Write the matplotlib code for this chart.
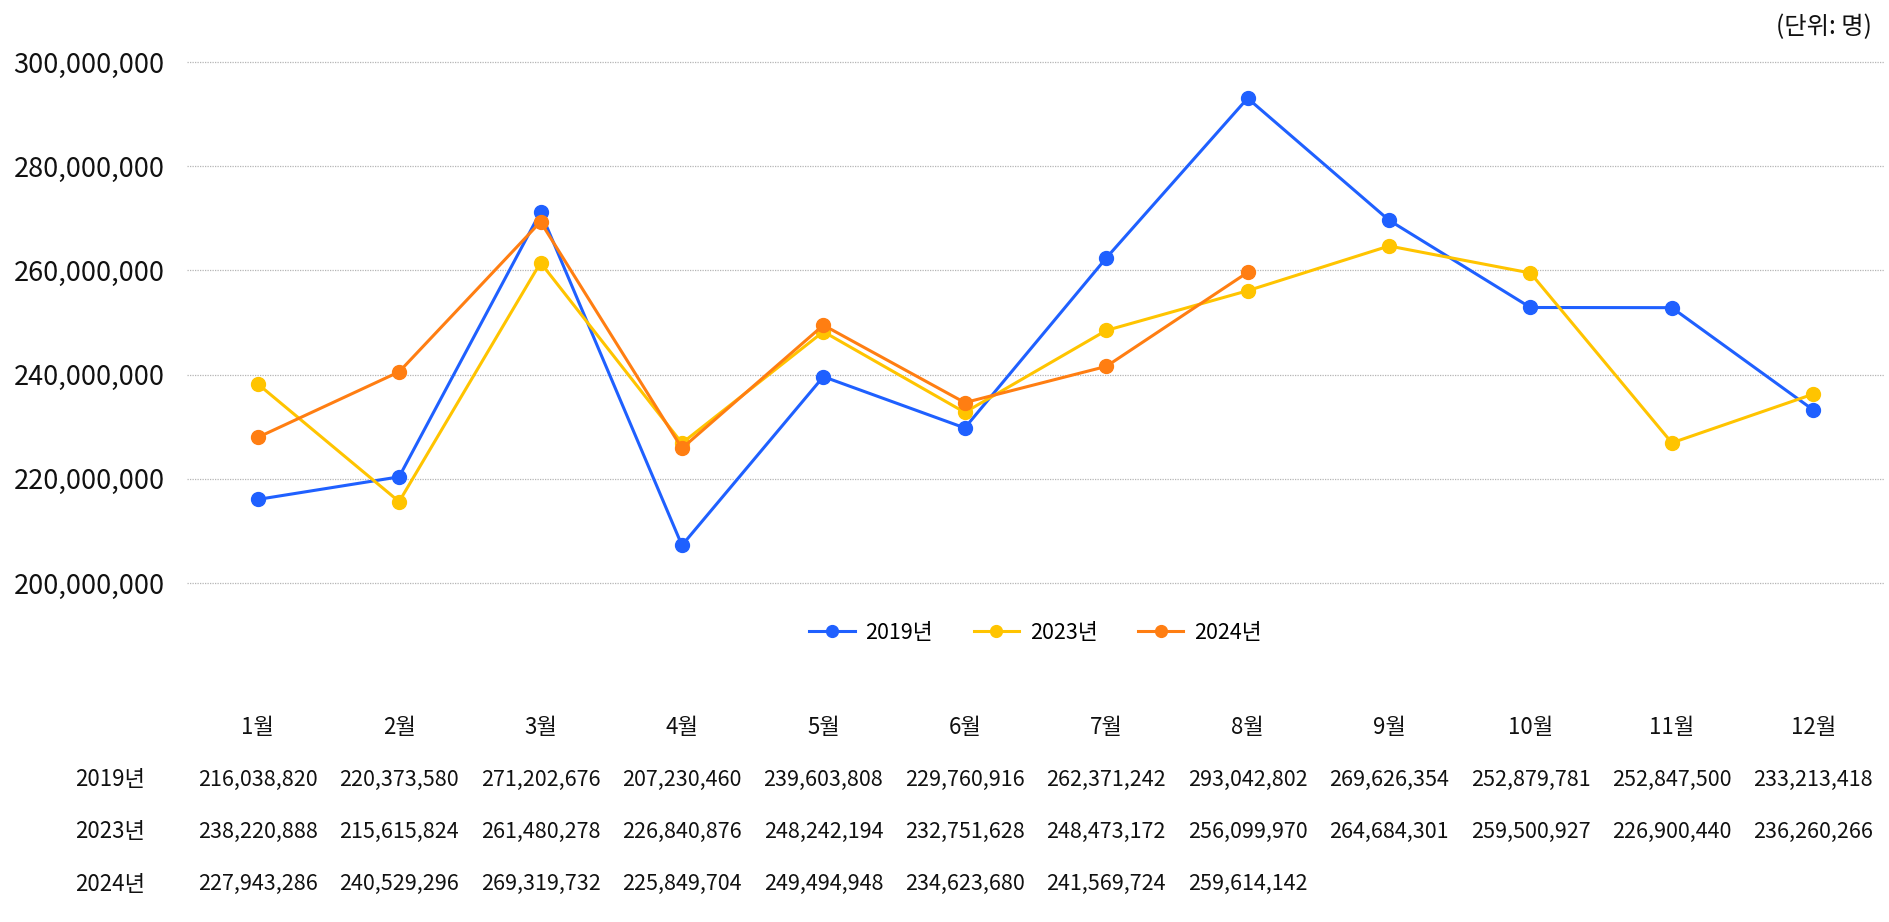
import matplotlib
matplotlib.use("Agg")
import matplotlib.pyplot as plt
import matplotlib.transforms as mtransforms
from matplotlib.ticker import FuncFormatter

plt.rcParams['font.family'] = ['Noto Sans CJK KR', 'DejaVu Sans']

months = ['1월', '2월', '3월', '4월', '5월', '6월', '7월', '8월', '9월', '10월', '11월', '12월']
series_names = ['2019년', '2023년', '2024년']
v2019 = [216038820, 220373580, 271202676, 207230460, 239603808, 229760916,
         262371242, 293042802, 269626354, 252879781, 252847500, 233213418]
v2023 = [238220888, 215615824, 261480278, 226840876, 248242194, 232751628,
         248473172, 256099970, 264684301, 259500927, 226900440, 236260266]
v2024 = [227943286, 240529296, 269319732, 225849704, 249494948, 234623680,
         241569724, 259614142]
yticks = [200000000, 220000000, 240000000, 260000000, 280000000, 300000000]
colors = ['#1F60FF', '#FFC400', '#FF7E12']
unit_text = '(단위: 명)'

W, H = 1890, 922
fig = plt.figure(figsize=(W / 100, H / 100), dpi=100)
ax = fig.add_axes([187 / W, 1 - 583 / H, (1884 - 187) / W, (583 - 62) / H])

all_series = [v2019, v2023, v2024]
for name, vals, c in zip(series_names, all_series, colors):
    ax.plot(range(len(vals)), vals, color=c, lw=2.2, marker='o', ms=10,
            label=name, zorder=3)

ax.set_xlim(-0.5, len(months) - 0.5)
ax.set_ylim(yticks[0], yticks[-1])
ax.set_yticks(yticks)
ax.yaxis.set_major_formatter(FuncFormatter(lambda v, p: f'{int(v):,}'))
ax.set_xticks([])
ax.tick_params(axis='y', length=0, pad=16, labelsize=19.5, labelcolor='#111111')
for s in ax.spines.values():
    s.set_visible(False)
ax.grid(axis='y', color='#b5b5b5', lw=0.9, linestyle=(0, (1, 1)))
for gl in ax.get_ygridlines():
    gl.set_clip_on(False)
ax.set_axisbelow(True)

fig.text(1872 / W, 1 - 27 / H, unit_text, ha='right', va='center', fontsize=17.5, color='#111111')

leg = fig.legend(loc='center', bbox_to_anchor=((187 + 1884) / 2 / W, 1 - 633 / H),
                 ncol=3, frameon=False, fontsize=15.5, handlelength=2.1,
                 handletextpad=0.5, columnspacing=1.9, markerscale=0.85)

trans = mtransforms.blended_transform_factory(ax.transData, fig.transFigure)
month_y = 1 - 727 / H
row_ys = [1 - 780 / H, 1 - 832 / H, 1 - 884 / H]
for i, m in enumerate(months):
    fig.text(i, month_y, m, transform=trans, ha='center', va='center', fontsize=16, color='#111111')
for name, vals, ry in zip(series_names, all_series, row_ys):
    fig.text(110 / W, ry, name, ha='center', va='center', fontsize=16, color='#111111')
    for i, v in enumerate(vals):
        fig.text(i, ry, f'{v:,}', transform=trans, ha='center', va='center', fontsize=15.5, color='#111111')

fig.savefig('out.png', dpi=100)
